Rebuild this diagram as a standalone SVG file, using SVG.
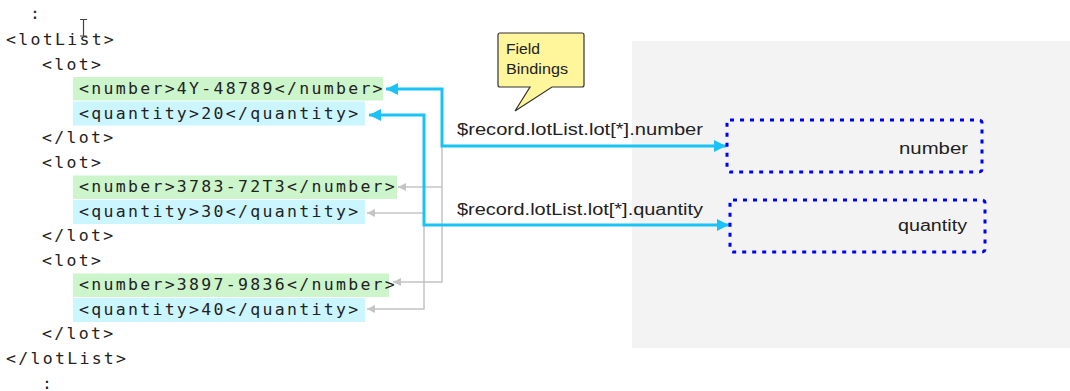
<svg xmlns="http://www.w3.org/2000/svg" width="1070" height="391" viewBox="0 0 1070 391">
  <style>
    .code { font-family: "DejaVu Sans Mono", "Liberation Mono", monospace; font-size: 16.5px; letter-spacing: 2.3px; fill: #222; }
    .num { fill: #ccf5cc; }
    .qty { fill: #ccf6ff; }
    .lbl { font-family: "Liberation Sans", Arial, sans-serif; font-size: 16px; fill: #222; }
    .field { fill: none; stroke: #0000ff; stroke-width: 3; stroke-dasharray: 4 6; }
    .bind { fill: none; stroke: #19c3f5; stroke-width: 3; }
    .rep { fill: none; stroke: #c4c4c4; stroke-width: 1.5; }
    .note { font-family: "Liberation Sans", Arial, sans-serif; font-size: 15px; fill: #222; }
  </style>
  <defs>
    <marker id="bindHead" markerUnits="userSpaceOnUse" markerWidth="14" markerHeight="12" refX="12" refY="6" orient="auto-start-reverse">
      <path d="M0,0 L12,6 L0,12 Z" fill="#19c3f5"/>
    </marker>
    <marker id="repHead" markerUnits="userSpaceOnUse" markerWidth="9" markerHeight="8" refX="8" refY="4" orient="auto">
      <path d="M0,0 L8,4 L0,8 Z" fill="#c4c4c4"/>
    </marker>
  </defs>

  <rect width="1070" height="391" fill="#ffffff"/>

  <!-- form panel -->
  <rect id="formPanel" x="632" y="41" width="438" height="307" fill="#f3f3f3"/>

  <!-- XML source listing -->
  <g id="xmlSource">
    <rect class="num" x="73" y="77" width="310" height="23.5"/>
    <rect class="qty" x="73" y="101.5" width="292" height="24"/>
    <rect class="num" x="73" y="175.5" width="324" height="23.5"/>
    <rect class="qty" x="73" y="200" width="292" height="24"/>
    <rect class="num" x="73" y="273.5" width="316" height="23.5"/>
    <rect class="qty" x="73" y="298" width="292" height="24"/>

    <text class="code" x="30" y="19">:</text>
    <text class="code" x="6" y="45">&lt;lotList&gt;</text>
    <text class="code" x="42" y="69.5">&lt;lot&gt;</text>
    <text class="code" x="79" y="94">&lt;number&gt;4Y-48789&lt;/number&gt;</text>
    <text class="code" x="79" y="118.5">&lt;quantity&gt;20&lt;/quantity&gt;</text>
    <text class="code" x="42" y="143">&lt;/lot&gt;</text>
    <text class="code" x="42" y="167.5">&lt;lot&gt;</text>
    <text class="code" x="79" y="192">&lt;number&gt;3783-72T3&lt;/number&gt;</text>
    <text class="code" x="79" y="216.5">&lt;quantity&gt;30&lt;/quantity&gt;</text>
    <text class="code" x="42" y="241">&lt;/lot&gt;</text>
    <text class="code" x="42" y="265.5">&lt;lot&gt;</text>
    <text class="code" x="79" y="290">&lt;number&gt;3897-9836&lt;/number&gt;</text>
    <text class="code" x="79" y="314.5">&lt;quantity&gt;40&lt;/quantity&gt;</text>
    <text class="code" x="42" y="339">&lt;/lot&gt;</text>
    <text class="code" x="6" y="363.5">&lt;/lotList&gt;</text>
    <text class="code" x="42" y="389">:</text>
  </g>

  <!-- text cursor -->
  <path id="cursor" d="M80,19.5 H87 M83.5,19.5 V36 M80,36 H87" fill="none" stroke="#444" stroke-width="1.2"/>

  <!-- connectors -->
  <g id="connectors">
    <path class="rep" d="M442,146 V282 H393" marker-end="url(#repHead)"/>
    <path class="rep" d="M442,187 H398" marker-end="url(#repHead)"/>
    <path class="rep" d="M424,213 H367" marker-end="url(#repHead)"/>
    <path class="rep" d="M424,213 V309 H367" marker-end="url(#repHead)"/>
    <path class="bind" d="M726,146 H442 V89 H386" marker-start="url(#bindHead)" marker-end="url(#bindHead)"/>
    <path class="bind" d="M729,225 H424 V115 H369" marker-start="url(#bindHead)" marker-end="url(#bindHead)"/>
    <text class="lbl" x="457" y="135" textLength="246" lengthAdjust="spacingAndGlyphs">$record.lotList.lot[*].number</text>
    <text class="lbl" x="457" y="215" textLength="246" lengthAdjust="spacingAndGlyphs">$record.lotList.lot[*].quantity</text>
  </g>

  <!-- callout -->
  <g id="fieldBindingsNote">
    <path d="M500,33 H582 Q584,33 584,35 V85 Q584,87 582,87 H552 L515,111 L530,87 H500 Q498,87 498,85 V35 Q498,33 500,33 Z" fill="#fff59b" stroke="#333" stroke-width="1.2"/>
    <text class="note" x="506" y="54" textLength="34" lengthAdjust="spacingAndGlyphs">Field</text>
    <text class="note" x="506" y="74" textLength="62" lengthAdjust="spacingAndGlyphs">Bindings</text>
  </g>

  <!-- form fields -->
  <g id="numberField">
    <rect class="field" x="727" y="120" width="255" height="52" rx="3"/>
    <text class="lbl" x="899" y="154" textLength="69" lengthAdjust="spacingAndGlyphs">number</text>
  </g>
  <g id="quantityField">
    <rect class="field" x="730" y="200" width="255" height="52" rx="3"/>
    <text class="lbl" x="898" y="231" textLength="69" lengthAdjust="spacingAndGlyphs">quantity</text>
  </g>
</svg>
